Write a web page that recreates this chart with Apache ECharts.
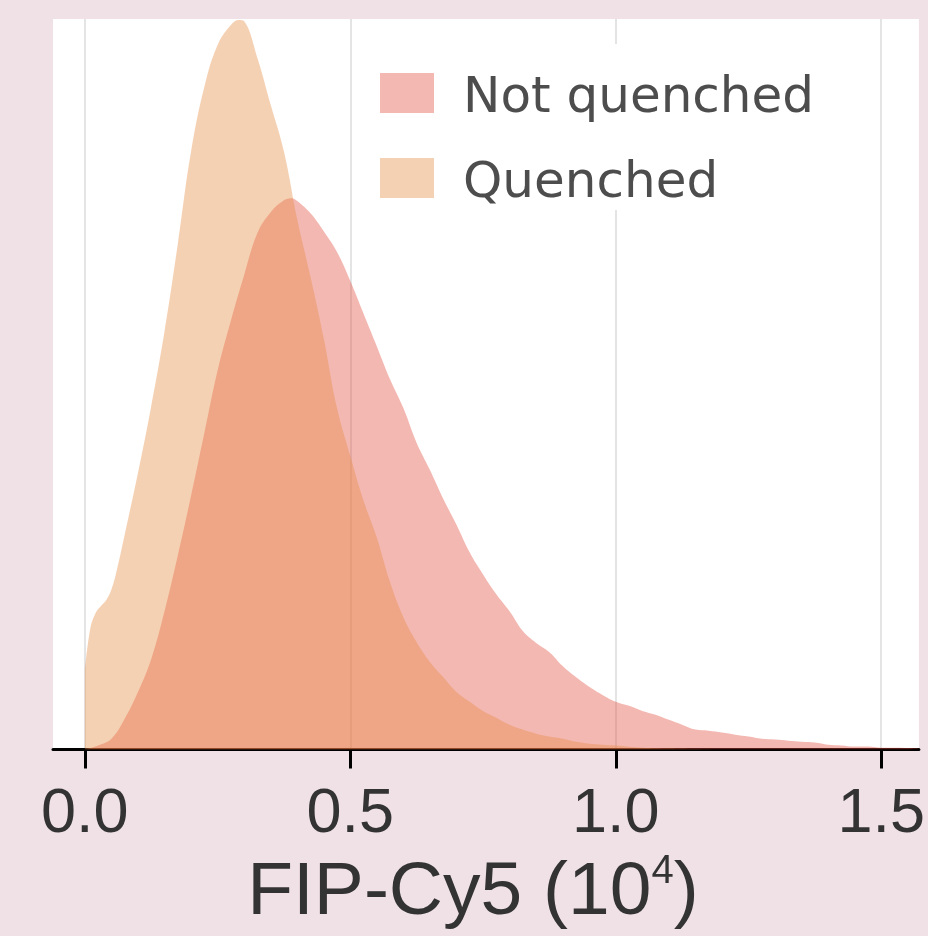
<!DOCTYPE html>
<html>
<head>
<meta charset="utf-8">
<script src="https://cdn.jsdelivr.net/npm/echarts@6/dist/echarts.min.js"></script>
<style>
html,body{margin:0;padding:0;background:#f0e1e6;}
#chart{width:928px;height:936px;}
</style>
</head>
<body>
<div id="chart"></div>
<script>
// FIP-Cy5 intensity (10^4) and KDE density
const seriesNames = ['Not quenched', 'Quenched'];
const tickValues = [0.0, 0.5, 1.0, 1.5];

const quenchedX = [0.000, 0.010, 0.020, 0.030, 0.040, 0.050, 0.060, 0.075, 0.100, 0.125, 0.150, 0.175, 0.200, 0.225, 0.250, 0.275, 0.290, 0.300, 0.325, 0.350, 0.375, 0.400, 0.425, 0.450, 0.475, 0.500, 0.525, 0.550, 0.575, 0.600, 0.625, 0.650, 0.675, 0.700, 0.725, 0.750, 0.775, 0.800, 0.825, 0.850, 0.875, 0.900, 0.925, 0.950, 0.975, 1.000, 1.050, 1.100, 1.150, 1.200, 1.300];
const quenchedY = [0.294, 0.445, 0.504, 0.530, 0.552, 0.592, 0.662, 0.794, 1.022, 1.269, 1.545, 1.868, 2.210, 2.449, 2.604, 2.678, 2.696, 2.692, 2.556, 2.383, 2.210, 1.960, 1.747, 1.519, 1.262, 1.085, 0.920, 0.783, 0.618, 0.489, 0.397, 0.324, 0.268, 0.213, 0.177, 0.143, 0.118, 0.092, 0.074, 0.059, 0.048, 0.040, 0.029, 0.022, 0.018, 0.015, 0.007, 0.004, 0.002, 0.000, 0.000];

const notQuenchedX = [0.000, 0.025, 0.050, 0.075, 0.100, 0.125, 0.150, 0.175, 0.200, 0.225, 0.250, 0.275, 0.300, 0.325, 0.350, 0.375, 0.390, 0.400, 0.425, 0.450, 0.475, 0.500, 0.525, 0.550, 0.575, 0.600, 0.625, 0.650, 0.675, 0.700, 0.725, 0.750, 0.775, 0.800, 0.825, 0.850, 0.875, 0.900, 0.925, 0.950, 0.975, 1.000, 1.025, 1.050, 1.075, 1.100, 1.125, 1.150, 1.175, 1.200, 1.225, 1.250, 1.275, 1.300, 1.325, 1.350, 1.375, 1.400, 1.425, 1.450, 1.475, 1.500, 1.525, 1.550, 1.575];
const notQuenchedY = [0.000, 0.015, 0.040, 0.114, 0.213, 0.335, 0.511, 0.717, 0.938, 1.170, 1.401, 1.585, 1.754, 1.909, 1.986, 2.030, 2.038, 2.027, 1.982, 1.916, 1.839, 1.732, 1.611, 1.490, 1.368, 1.262, 1.133, 1.033, 0.927, 0.831, 0.728, 0.647, 0.574, 0.511, 0.438, 0.394, 0.360, 0.309, 0.268, 0.232, 0.202, 0.177, 0.162, 0.143, 0.129, 0.110, 0.092, 0.074, 0.070, 0.063, 0.055, 0.048, 0.040, 0.037, 0.033, 0.029, 0.026, 0.018, 0.015, 0.011, 0.011, 0.007, 0.007, 0.006, 0.004];

function pairs(xs, ys) { return xs.map((x, i) => [x, ys[i]]); }

const chart = echarts.init(document.getElementById('chart'), null, {renderer: 'canvas'});
chart.setOption({
  backgroundColor: '#f0e1e6',
  animation: false,
  grid: {left: 53, right: 9, top: 19, bottom: 183, show: true, backgroundColor: '#ffffff', borderWidth: 0, containLabel: false},
  legend: {
    orient: 'vertical',
    left: 358, top: 44,
    backgroundColor: '#ffffff',
    padding: [29, 20, 1, 22],
    itemWidth: 54, itemHeight: 40, itemGap: 34,
    selectedMode: false,
    formatter: name => '{t|' + name + '}{g| }',
    textStyle: {padding: [0, 0, 0, 24], rich: {
      t: {fontFamily: 'DejaVu Sans', fontSize: 50, lineHeight: 50, color: '#4d4d4d', verticalAlign: 'bottom'},
      g: {fontSize: 1, lineHeight: 62}
    }},
    data: [
      {name: seriesNames[0], icon: 'rect', itemStyle: {color: '#f4b8b2'}},
      {name: seriesNames[1], icon: 'rect', itemStyle: {color: '#f5d1b4'}}
    ]
  },
  xAxis: {
    type: 'value', min: -0.06, max: 1.571,
    axisLine: {show: true, onZero: false, lineStyle: {color: '#000', width: 3}},
    axisTick: {show: true, length: 19, lineStyle: {color: '#000', width: 3}, customValues: tickValues},
    axisLabel: {customValues: tickValues, margin: 34, fontFamily: 'Liberation Sans', fontSize: 63, color: '#333',
      formatter: v => v.toFixed(1)},
    splitLine: {show: true, lineStyle: {color: '#e4e4e4', width: 2}},
    name: '{a|FIP-Cy5 (10}{s|4}{a|)}',
    nameLocation: 'middle', nameGap: 100,
    nameTextStyle: {padding: [0, 26, 0, 0], rich: {
      a: {fontFamily: 'Liberation Sans', fontSize: 75, color: '#333', lineHeight: 84},
      s: {fontFamily: 'Liberation Sans', fontSize: 40, color: '#333', lineHeight: 72, verticalAlign: 'top'}
    }}
  },
  yAxis: {type: 'value', min: 0, max: 2.7, show: false, splitLine: {show: false}},
  series: [
    {name: seriesNames[0], type: 'line', data: pairs(notQuenchedX, notQuenchedY), smooth: 0.4, showSymbol: false,
      lineStyle: {width: 0}, areaStyle: {color: 'rgba(227,78,62,0.4)', opacity: 1}, z: 2, color: '#f4b8b2'},
    {name: seriesNames[1], type: 'line', data: pairs(quenchedX, quenchedY), smooth: 0.4, showSymbol: false,
      lineStyle: {width: 0}, areaStyle: {color: 'rgba(230,140,68,0.4)', opacity: 1}, z: 3, color: '#f5d1b4'}
  ]
});
</script>
</body>
</html>
